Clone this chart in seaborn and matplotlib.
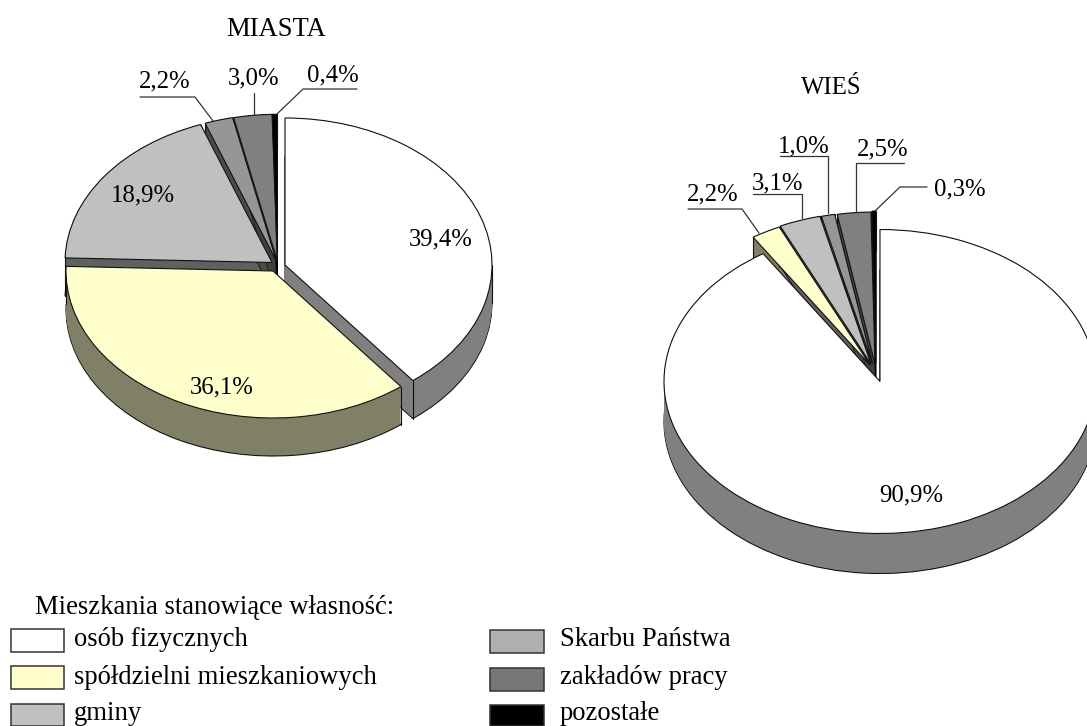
import numpy as np
import matplotlib
matplotlib.use("Agg")
import matplotlib.pyplot as plt
from matplotlib.patches import Wedge, Rectangle
import seaborn as sns

categories = ["osób fizycznych", "spółdzielni mieszkaniowych", "gminy",
              "Skarbu Państwa", "zakładów pracy", "pozostałe"]
miasta_values = [39.4, 36.1, 18.9, 2.2, 3.0, 0.4]
wies_values = [90.9, 2.2, 3.1, 1.0, 2.5, 0.3]
miasta_labels = ["39,4%", "36,1%", "18,9%", "2,2%", "3,0%", "0,4%"]
wies_labels = ["90,9%", "2,2%", "3,1%", "1,0%", "2,5%", "0,3%"]

W, H = 1087, 726
sns.set_theme(style="white")
plt.rcParams["font.family"] = ["Liberation Serif", "DejaVu Serif"]
FS = 17.8
FS_LEGEND = 19.2
EDGE = "#111111"
LW = 0.8

top_colors = sns.color_palette(["#FFFFFF", "#FFFFCC", "#C0C0C0", "#969696", "#808080", "#000000"])
side_colors = sns.color_palette(["#808080", "#808066", "#606060", "#4B4B4B", "#404040", "#000000"])
legend_colors = sns.color_palette(["#FFFFFF", "#FFFFCC", "#C0C0C0", "#B0B0B0", "#777777", "#000000"])

fig = plt.figure(figsize=(W / 100, H / 100), dpi=100, facecolor="white")


def draw_pie(values, centre, radii, depth, apexes, side_z, face_z):
    cx, cy = centre
    rx, ry = radii
    ax = fig.add_axes([0, 0, 1, 1], facecolor="none")
    wedges, _ = ax.pie(values, colors=top_colors, startangle=90, counterclock=False,
                       radius=1, wedgeprops=dict(edgecolor=EDGE, linewidth=LW))
    ax.set_aspect("auto")
    ax.set_xlim(-cx / rx, (W - cx) / rx)
    ax.set_ylim((cy - H) / ry, cy / ry)
    ax.axis("off")
    dy_unit = 1 / ry
    for idx, w in enumerate(wedges):
        ax_x = (apexes[idx][0] - cx) / rx
        ax_y = (cy - apexes[idx][1]) / ry
        w.set_center((ax_x, ax_y))
        w.set_zorder(face_z[idx])
        t1, t2 = w.theta1, w.theta2
        sz = side_z[idx]
        for d in range(depth, -1, -1):
            ec = EDGE if d == depth else "none"
            ax.add_patch(Wedge((ax_x, ax_y - d * dy_unit), 1, t1, t2,
                               facecolor=side_colors[idx], edgecolor=ec,
                               linewidth=LW if d == depth else 0, zorder=sz))
        angles = [t1, t2] + [a for a in (180, 360, 0) if t1 < a < t2]
        for a in angles:
            px = ax_x + np.cos(np.radians(a))
            py = ax_y + np.sin(np.radians(a))
            ax.plot([px, px], [py, py - depth * dy_unit], color=EDGE, lw=LW, zorder=sz)
    return ax


# painter's order: the back pieces first, front pieces last
draw_pie(miasta_values, (277, 264), (207, 147), 38,
         [(285, 265), (273, 271), (272, 262.5), (276.5, 261.3), (277.5, 261.3), (277.3, 261.3)],
         [6, 10, 1, 1, 1, 1], [8, 12, 3, 3, 3, 3])
draw_pie(wies_values, (877, 364), (216, 152), 40,
         [(880, 381.5), (870, 365), (871, 364), (872.5, 364), (875, 364), (876, 363)],
         [10, 1, 1, 1, 1, 1], [12, 3, 3, 3, 3, 3])

# overlay in pixel coordinates: titles, labels, leaders, legend
ov = fig.add_axes([0, 0, 1, 1], facecolor="none", zorder=20)
ov.set_xlim(0, W)
ov.set_ylim(H, 0)
ov.axis("off")


def label(x, y, s, ha="center", size=FS):
    ov.text(x, y, s, fontsize=size, color="black", ha=ha, va="center")


def leader(xs, ys):
    ov.plot(xs, ys, color="#333333", lw=0.9, solid_joinstyle="miter")


label(276, 29, "MIASTA", size=19.2)
label(831, 88, "WIEŚ")

for pos, txt in zip([(441, 239), (222, 387), (143, 195), (165, 81.5), (254, 78.5), (333, 75.5)], miasta_labels):
    label(pos[0], pos[1], txt)
leader([140, 195, 213], [97, 97, 121])
leader([254, 254], [93, 115])
leader([357, 303, 277], [89, 89, 114])

for pos, txt in zip([(911, 495), (713, 194.5), (778, 183), (804, 146), (883, 149), (960, 189)], wies_labels):
    label(pos[0], pos[1], txt)
leader([688, 742, 759], [209, 209, 233])
leader([753, 802, 802], [194, 194, 218])
leader([780, 828, 828], [156, 156, 213])
leader([904, 856, 856], [163, 163, 211])
leader([927, 900, 875], [187, 187, 211])

label(35, 608, "Mieszkania stanowiące własność:", ha="left", size=FS_LEGEND)
rows_left = [(629, 23), (666, 23), (704, 22)]
rows_right = [(630, 23), (668, 23), (705, 21)]
text_y = [639, 678, 713.5]
for i in range(3):
    y, h = rows_left[i]
    ov.add_patch(Rectangle((11, y), 53, h, facecolor=legend_colors[i], edgecolor="#333333", lw=1.1))
    label(74, text_y[i], categories[i], ha="left", size=FS_LEGEND)
    y, h = rows_right[i]
    ov.add_patch(Rectangle((490, y), 54, h, facecolor=legend_colors[i + 3], edgecolor="#333333", lw=1.1))
    label(560, text_y[i], categories[i + 3], ha="left", size=FS_LEGEND)

fig.savefig("out.png", dpi=100, facecolor="white")
